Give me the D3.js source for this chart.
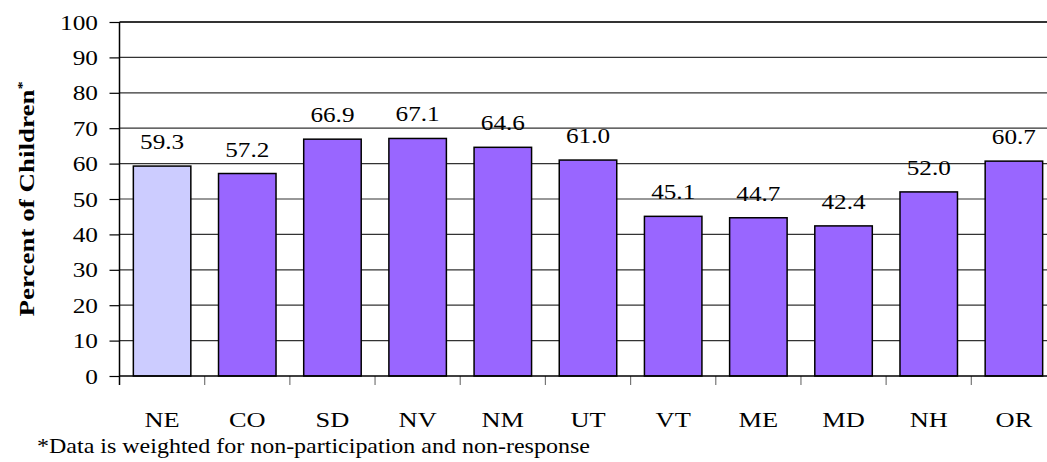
<!DOCTYPE html>
<html>
<head>
<meta charset="utf-8">
<script src="https://cdn.jsdelivr.net/npm/d3@7"></script>
<style>
  html, body { margin: 0; padding: 0; background: #fff; }
  svg { display: block; }
</style>
</head>
<body>
<svg id="chart" width="1047" height="462"></svg>
<script>
// States surveyed and the percent of children in each
const states = ["NE", "CO", "SD", "NV", "NM", "UT", "VT", "ME", "MD", "NH", "OR"];
const percents = [59.3, 57.2, 66.9, 67.1, 64.6, 61.0, 45.1, 44.7, 42.4, 52.0, 60.7];
const yTicks = [0, 10, 20, 30, 40, 50, 60, 70, 80, 90, 100];
const highlightState = "NE";
const yTitle = "Percent of Children";
const footnote = "*Data is weighted for non-participation and non-response";

const serif = "'Liberation Serif', 'Times New Roman', Times, serif";

const svg = d3.select("#chart");

const plot = { left: 119.5, top: 22, bottom: 376, right: 1056.5 };

const x = d3.scaleBand()
  .domain(states)
  .range([plot.left, plot.right])
  .paddingInner(0.325)
  .paddingOuter(0.1625);

const y = d3.scaleLinear()
  .domain([0, 100])
  .range([plot.bottom, plot.top]);

// Serif text helper
function serifText(sel) {
  return sel.style("font-family", serif).attr("fill", "#000");
}

// Horizontal gridlines
svg.append("g")
  .selectAll("line")
  .data(yTicks.filter(d => d > 0))
  .join("line")
  .attr("x1", plot.left)
  .attr("x2", plot.right)
  .attr("y1", d => y(d))
  .attr("y2", d => y(d))
  .attr("stroke", "#333")
  .attr("stroke-width", d => d === 100 ? 2 : 1.2);

// Left axis with outward ticks
const yAxis = d3.axisLeft(y).tickValues(yTicks).tickSize(10).tickFormat("");
const gy = svg.append("g").attr("transform", `translate(${plot.left},0)`).call(yAxis);
gy.select(".domain").remove();
gy.selectAll(".tick line").attr("stroke", "#000").attr("stroke-width", 1.2);
svg.append("line")
  .attr("x1", plot.left).attr("x2", plot.left)
  .attr("y1", plot.top).attr("y2", plot.bottom + 9)
  .attr("stroke", "#000").attr("stroke-width", 1.5);

// Y tick labels, slightly widened serif
svg.append("g")
  .selectAll("text")
  .data(yTicks)
  .join("text")
  .call(serifText)
  .attr("transform", d => `translate(98,${y(d) + 7.5}) scale(1.15,1)`)
  .attr("text-anchor", "end")
  .attr("font-size", 22)
  .text(d => d);

// Bars
svg.append("g")
  .selectAll("rect")
  .data(states)
  .join("rect")
  .attr("x", d => x(d))
  .attr("y", (d, i) => y(percents[i]))
  .attr("width", x.bandwidth())
  .attr("height", (d, i) => y(0) - y(percents[i]))
  .attr("fill", d => d === highlightState ? "#CCCCFF" : "#9966FF")
  .attr("stroke", "#000")
  .attr("stroke-width", 1.5);

// Category boundary ticks below the baseline
const step = x.step();
const boundaries = d3.range(1, states.length).map(i => plot.left + i * step);
svg.append("g")
  .selectAll("line")
  .data(boundaries)
  .join("line")
  .attr("x1", d => d).attr("x2", d => d)
  .attr("y1", plot.bottom).attr("y2", plot.bottom + 9)
  .attr("stroke", "#777").attr("stroke-width", 1.2);

// Baseline
svg.append("line")
  .attr("x1", plot.left).attr("x2", plot.right)
  .attr("y1", plot.bottom).attr("y2", plot.bottom)
  .attr("stroke", "#000").attr("stroke-width", 1.5);

// Value labels above bars
svg.append("g")
  .selectAll("text")
  .data(states)
  .join("text")
  .call(serifText)
  .attr("transform", (d, i) => `translate(${x(d) + x.bandwidth() / 2},${y(percents[i]) - 17}) scale(1.2,1)`)
  .attr("text-anchor", "middle")
  .attr("font-size", 21)
  .text((d, i) => percents[i].toFixed(1));

// Category labels
svg.append("g")
  .selectAll("text")
  .data(states)
  .join("text")
  .call(serifText)
  .attr("transform", d => `translate(${x(d) + x.bandwidth() / 2},426.5) scale(1.2,1)`)
  .attr("text-anchor", "middle")
  .attr("font-size", 22)
  .text(d => d);

// Rotated axis title with superscript asterisk
const title = svg.append("text")
  .call(serifText)
  .attr("transform", `translate(34,${(plot.top + plot.bottom) / 2}) rotate(-90) scale(1.35,1)`)
  .attr("text-anchor", "middle")
  .attr("font-size", 20)
  .attr("font-weight", "bold");
title.append("tspan").text(yTitle);
title.append("tspan").attr("font-size", 12).attr("dy", -8).text("*");

// Footnote
svg.append("text")
  .call(serifText)
  .attr("transform", "translate(37,453) scale(1.2,1)")
  .attr("font-size", 20)
  .text(footnote);
</script>
</body>
</html>
